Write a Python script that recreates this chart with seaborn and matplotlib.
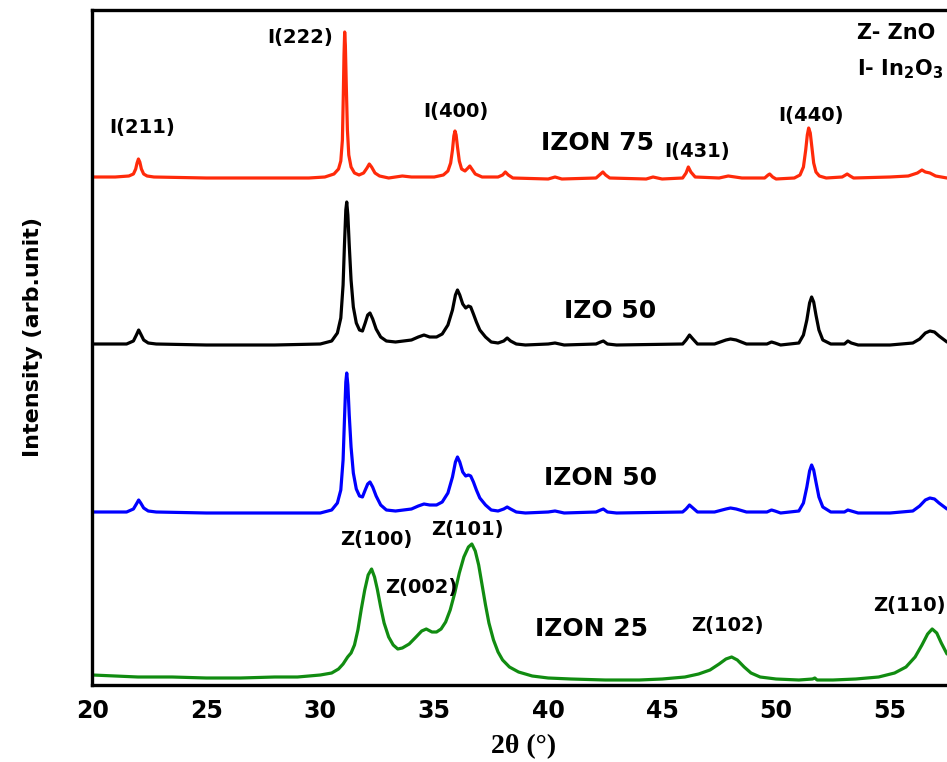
import matplotlib
matplotlib.use("Agg")
import matplotlib.pyplot as plt
import seaborn as sns
import pandas as pd
from matplotlib.ticker import MultipleLocator

# ---------------- data ----------------
red_x = [20.0, 21.0, 21.6, 21.8, 21.9, 21.96, 22.02, 22.08, 22.15, 22.25, 22.4, 22.7, 25.0, 28.0,
         29.5, 30.2, 30.6, 30.8, 30.9, 30.97, 31.01, 31.04, 31.07, 31.1, 31.14, 31.19, 31.25, 31.35,
         31.5, 31.7, 31.9, 32.05, 32.15, 32.25, 32.4, 32.6, 33.0, 33.6, 34.0, 35.0, 35.4, 35.6,
         35.72, 35.8, 35.86, 35.91, 35.96, 36.02, 36.1, 36.2, 36.35, 36.48, 36.56, 36.65, 36.8, 37.1,
         37.8, 38.0, 38.12, 38.25, 38.45, 40.0, 40.3, 40.6, 42.1, 42.3, 42.4, 42.52, 42.7, 44.3,
         44.6, 45.0, 45.9, 46.05, 46.15, 46.26, 46.45, 47.5, 47.9, 48.5, 49.5, 49.65, 49.72, 49.85,
         50.0, 50.8, 51.05, 51.2, 51.3, 51.37, 51.43, 51.5, 51.57, 51.65, 51.75, 51.9, 52.2, 52.9,
         53.05, 53.12, 53.25, 53.4, 55.0, 55.8, 56.2, 56.4, 56.55, 56.75, 57.0, 57.5]
red_y = [508, 508, 509, 511, 516, 522, 526, 523, 516, 511, 509, 508, 507, 507,
         507, 508, 511, 516, 524, 545, 590, 630, 653, 640, 600, 555, 530, 518,
         512, 510, 512, 517, 521, 518, 512, 509, 507, 509, 508, 508, 510, 514,
         522, 535, 549, 554, 550, 538, 524, 516, 514, 517, 519, 516, 511, 508,
         508, 510, 513, 510, 507, 506, 508, 506, 507, 511, 513, 510, 507, 506,
         508, 506, 507, 512, 518, 513, 508, 507, 509, 507, 507, 510, 511, 508,
         506, 507, 510, 518, 535, 550, 557, 552, 538, 522, 513, 509, 507, 508,
         510, 511, 509, 507, 508, 509, 512, 515, 513, 512, 509, 507]

black_x = [20.0, 21.5, 21.8, 21.93, 22.03, 22.12, 22.25, 22.45, 22.8, 25.0, 28.0, 30.0, 30.5, 30.75,
           30.9, 31.0, 31.06, 31.12, 31.16, 31.21, 31.27, 31.35, 31.45, 31.58, 31.72, 31.85, 31.97,
           32.08, 32.18, 32.3, 32.45, 32.65, 32.9, 33.3, 34.0, 34.3, 34.55, 34.8, 35.1, 35.35, 35.6,
           35.8, 35.93, 36.02, 36.12, 36.25, 36.38, 36.5, 36.6, 36.72, 36.85, 37.0, 37.25, 37.5, 37.8,
           38.05, 38.2, 38.35, 38.6, 39.0, 40.0, 40.3, 40.7, 42.1, 42.3, 42.42, 42.6, 43.0, 45.9,
           46.05, 46.2, 46.35, 46.55, 47.3, 47.8, 48.0, 48.25, 48.7, 49.6, 49.8, 49.95, 50.2, 51.0,
           51.2, 51.35, 51.47, 51.56, 51.65, 51.75, 51.88, 52.05, 52.4, 53.0, 53.15, 53.3, 53.6, 55.0,
           56.0, 56.3, 56.55, 56.75, 56.95, 57.15, 57.5]
black_y = [341, 341, 344, 350, 355, 351, 345, 342, 341, 340, 340, 341, 344, 352,
           367, 400, 440, 475, 483, 470, 440, 405, 378, 362, 355, 354, 362,
           370, 372, 366, 356, 348, 344, 343, 345, 348, 350, 348, 348, 351, 360,
           375, 390, 395, 390, 381, 377, 379, 378, 371, 363, 355, 348, 343, 342,
           344, 347, 344, 341, 340, 341, 342, 340, 341, 343, 344, 341, 340, 341,
           345, 350, 346, 341, 341, 345, 346, 345, 341, 341, 343, 342, 340, 342,
           350, 365, 382, 388, 383, 370, 355, 345, 341, 341, 344, 342, 340, 340,
           342, 346, 352, 354, 353, 349, 343]

blue_x = [20.0, 21.5, 21.8, 21.93, 22.03, 22.12, 22.25, 22.45, 22.8, 25.0, 28.0, 30.0, 30.5, 30.75,
          30.9, 31.0, 31.06, 31.12, 31.16, 31.21, 31.27, 31.35, 31.45, 31.58, 31.72, 31.85, 31.97,
          32.08, 32.18, 32.3, 32.45, 32.65, 32.9, 33.3, 34.0, 34.3, 34.55, 34.8, 35.1, 35.35, 35.6,
          35.8, 35.93, 36.02, 36.12, 36.25, 36.38, 36.5, 36.6, 36.72, 36.85, 37.0, 37.25, 37.5, 37.8,
          38.05, 38.2, 38.35, 38.6, 39.0, 40.0, 40.3, 40.7, 42.1, 42.3, 42.42, 42.6, 43.0, 45.9,
          46.05, 46.2, 46.35, 46.55, 47.3, 47.8, 48.0, 48.25, 48.7, 49.6, 49.8, 49.95, 50.2, 51.0,
          51.2, 51.35, 51.47, 51.56, 51.65, 51.75, 51.88, 52.05, 52.4, 53.0, 53.15, 53.3, 53.6, 55.0,
          56.0, 56.3, 56.55, 56.75, 56.95, 57.15, 57.5]
blue_y = [173, 173, 176, 181, 185, 182, 177, 174, 173, 172, 172, 172, 175, 182,
          195, 225, 265, 303, 312, 300, 270, 238, 212, 196, 189, 188, 195,
          201, 203, 198, 189, 180, 175, 174, 176, 179, 181, 180, 180, 183, 192,
          208, 223, 228, 223, 213, 209, 210, 209, 203, 195, 187, 180, 175, 174,
          176, 178, 176, 173, 172, 173, 174, 172, 173, 175, 176, 173, 172, 173,
          176, 180, 177, 173, 173, 176, 177, 176, 173, 173, 175, 174, 172, 174,
          182, 198, 214, 220, 215, 203, 188, 178, 173, 173, 175, 174, 172, 172,
          174, 179, 185, 187, 186, 182, 176]

green_x = [20.0, 21.0, 22.0, 23.5, 25.0, 26.5, 28.0, 29.0, 30.0, 30.5, 30.8, 31.0, 31.2, 31.35,
           31.5, 31.65, 31.8, 31.95, 32.1, 32.25, 32.38, 32.5, 32.65, 32.8, 33.0, 33.2, 33.4, 33.6,
           33.9, 34.2, 34.45, 34.65, 34.9, 35.1, 35.3, 35.5, 35.7, 35.9, 36.1, 36.3, 36.5, 36.65,
           36.8, 36.95, 37.1, 37.25, 37.4, 37.6, 37.8, 38.0, 38.3, 38.7, 39.3, 40.0, 41.0, 42.5,
           44.0, 45.0, 46.0, 46.6, 47.1, 47.5, 47.8, 48.05, 48.3, 48.6, 48.9, 49.3, 50.0, 51.0,
           51.6, 51.7, 51.8, 52.5, 53.5, 54.5, 55.2, 55.7, 56.1, 56.4, 56.65, 56.85, 57.05, 57.25,
           57.5]
green_y = [10, 9, 8, 8, 7, 7, 8, 8, 10, 12, 16, 21, 28, 32,
           40, 55, 76, 95, 110, 116, 108, 96, 78, 62, 48, 40, 36, 37,
           41, 48, 54, 56, 53, 53, 56, 63, 75, 92, 112, 128, 138, 141,
           134, 120, 100, 80, 62, 45, 33, 25, 18, 13, 9, 7, 6, 5,
           5, 6, 8, 11, 15, 21, 26, 28, 25, 18, 12, 8, 6, 5,
           6, 7, 5, 5, 6, 8, 12, 18, 28, 40, 51, 56, 52, 42,
           31]

series_names = ["IZON 75", "IZO 50", "IZON 50", "IZON 25"]
series_colors = ["#ff2a0a", "#000000", "#0000ff", "#118c11"]

x_ticks = [20, 25, 30, 35, 40, 45, 50, 55]

# peak labels: (text, x, y)
peak_labels = [
    ("I(211)", 22.2, 558), ("I(222)", 29.1, 647), ("I(400)", 35.95, 574),
    ("I(431)", 46.55, 534), ("I(440)", 51.55, 570),
    ("Z(100)", 32.45, 145), ("Z(101)", 36.47, 155), ("Z(002)", 34.41, 97),
    ("Z(102)", 47.87, 59), ("Z(110)", 55.85, 80),
]
sample_labels = [("IZON 75", 42.15, 542), ("IZO 50", 42.7, 374),
                 ("IZON 50", 42.3, 207), ("IZON 25", 41.9, 56)]

# ---------------- build frame ----------------
frames = []
for name, xs, ys in zip(series_names, [red_x, black_x, blue_x, green_x],
                        [red_y, black_y, blue_y, green_y]):
    frames.append(pd.DataFrame({"two_theta": xs, "intensity": ys, "sample": name}))
df = pd.concat(frames, ignore_index=True)

sns.set_style("white")
plt.rcParams["font.family"] = ["DejaVu Sans"]
plt.rcParams["text.color"] = "black"
plt.rcParams["axes.labelcolor"] = "black"
plt.rcParams["xtick.color"] = "black"

fig = plt.figure(figsize=(9.47, 7.62), dpi=100)
ax = fig.add_axes([92.4 / 947, 77 / 762, 1 - 92.4 / 947, 675 / 762])

sns.lineplot(data=df, x="two_theta", y="intensity", hue="sample",
             palette=dict(zip(series_names, series_colors)), estimator=None,
             sort=False, linewidth=2.3, legend=False, ax=ax,
             solid_joinstyle="round", solid_capstyle="round")

ax.set_xlim(20, 57.5)
ax.set_ylim(0, 675)
ax.set_xticks(x_ticks)
ax.xaxis.set_minor_locator(MultipleLocator(2.5))
ax.set_yticks([])
ax.tick_params(axis="x", which="major", direction="in", length=6, width=2,
               labelsize=17, pad=10, top=False, colors="black")
ax.tick_params(axis="x", which="minor", direction="in", length=4, width=2, top=False,
               colors="black")
for lbl in ax.get_xticklabels():
    lbl.set_fontweight("bold")

for side in ["left", "bottom", "top"]:
    ax.spines[side].set_linewidth(2.4)
    ax.spines[side].set_color("black")
ax.spines["right"].set_visible(False)

ax.set_xlabel("2θ (°)", fontsize=20, fontweight="bold", color="black",
              family=["Liberation Serif", "DejaVu Serif"])
ax.xaxis.set_label_coords(0.505, -0.072)
ax.set_ylabel("Intensity (arb.unit)", fontsize=16, fontweight="bold", color="black")
ax.yaxis.set_label_coords(-0.058, 0.516)

for txt, x, y in peak_labels:
    ax.text(x, y, txt, fontsize=14, fontweight="bold", ha="center", va="center",
            color="black", clip_on=False)
for txt, x, y in sample_labels:
    ax.text(x, y, txt, fontsize=18, fontweight="bold", ha="center", va="center",
            color="black")

ax.text(53.55, 652, "Z- ZnO", fontsize=15, fontweight="bold", ha="left", va="center",
        color="black")
ax.text(53.55, 616, "I- In$_\\mathbf{2}$O$_\\mathbf{3}$", fontsize=15, fontweight="bold",
        ha="left", va="center", color="black")

fig.savefig("out.png", dpi=100)
